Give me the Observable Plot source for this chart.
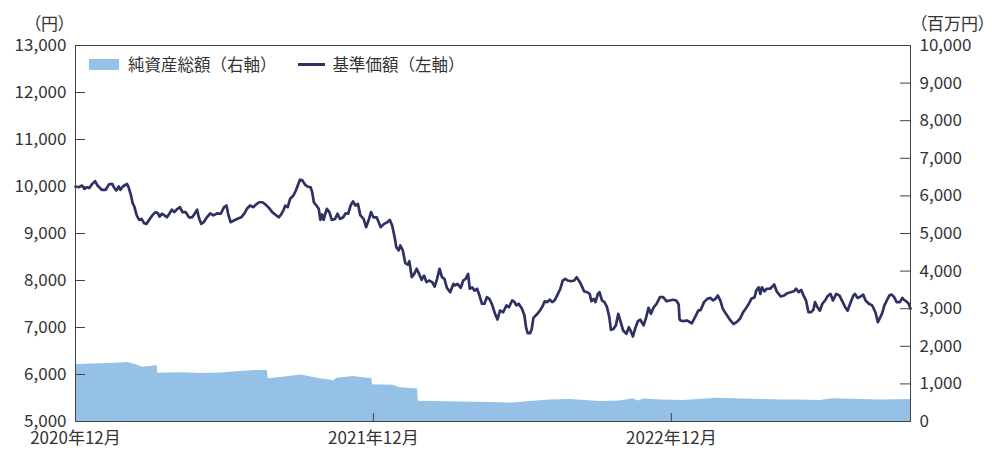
<!DOCTYPE html>
<html>
<head>
<meta charset="utf-8">
<script src="https://cdn.jsdelivr.net/npm/d3@7"></script>
<script src="https://cdn.jsdelivr.net/npm/@observablehq/plot@0.6"></script>
<style>
  html, body { margin: 0; padding: 0; background: #fff; }
  #wrap { position: relative; width: 992px; height: 454px; font-family: "Noto Sans CJK JP", "Noto Sans", sans-serif; color: #333; }
  #legend { position: absolute; left: 89px; top: 52px; display: flex; align-items: center; font-size: 16.5px; color: #333; white-space: nowrap; }
  .sw-area { width: 30px; height: 11px; background: #95c1e7; margin-right: 9px; }
  .sw-line { width: 27px; height: 3px; background: #2f3163; margin-left: 21px; margin-right: 8px; }
  .palt { font-feature-settings: "palt" 1; }
</style>
</head>
<body>
<div id="wrap">
  <div id="chart"></div>
  <div id="legend"><span class="sw-area"></span><span>純資産総額（右軸）</span><span class="sw-line"></span><span>基準価額（左軸）</span></div>
</div>
<script>
// 基準価額 (円)
const navDates = [
"2020-12-01","2020-12-05","2020-12-09","2020-12-12","2020-12-15","2020-12-18","2020-12-21","2020-12-25","2020-12-28",
"2021-01-02","2021-01-07","2021-01-11","2021-01-15","2021-01-17","2021-01-20","2021-01-23","2021-01-25","2021-01-28",
"2021-02-02","2021-02-04","2021-02-07","2021-02-09","2021-02-11","2021-02-14","2021-02-17","2021-02-20","2021-02-23","2021-02-26",
"2021-03-02","2021-03-05","2021-03-09","2021-03-12","2021-03-14","2021-03-17","2021-03-20","2021-03-23","2021-03-26","2021-03-29",
"2021-04-01","2021-04-05","2021-04-08","2021-04-11","2021-04-15","2021-04-19","2021-04-23","2021-04-26","2021-04-29",
"2021-05-01","2021-05-04","2021-05-07","2021-05-11","2021-05-15","2021-05-19","2021-05-24","2021-05-28",
"2021-06-01","2021-06-04","2021-06-06","2021-06-09","2021-06-13","2021-06-17","2021-06-22","2021-06-26","2021-06-29",
"2021-07-03","2021-07-07","2021-07-10","2021-07-14","2021-07-18","2021-07-22","2021-07-26","2021-07-30",
"2021-08-03","2021-08-07","2021-08-10","2021-08-13","2021-08-15","2021-08-18","2021-08-21","2021-08-25","2021-08-28","2021-08-31",
"2021-09-02","2021-09-05","2021-09-08","2021-09-11","2021-09-15","2021-09-17","2021-09-19","2021-09-23","2021-09-25","2021-09-27","2021-09-29",
"2021-10-01","2021-10-03","2021-10-05","2021-10-08","2021-10-11","2021-10-15","2021-10-18","2021-10-21","2021-10-25","2021-10-28","2021-10-31",
"2021-11-03","2021-11-06","2021-11-09","2021-11-12","2021-11-15","2021-11-19","2021-11-22","2021-11-25","2021-11-28",
"2021-12-01","2021-12-05","2021-12-10","2021-12-14","2021-12-18","2021-12-21","2021-12-24","2021-12-27","2021-12-29",
"2022-01-01","2022-01-03","2022-01-06","2022-01-09","2022-01-12","2022-01-14","2022-01-17","2022-01-20","2022-01-23","2022-01-26","2022-01-29",
"2022-02-01","2022-02-04","2022-02-07","2022-02-11","2022-02-14","2022-02-17","2022-02-20","2022-02-23","2022-02-26",
"2022-03-01","2022-03-05","2022-03-09","2022-03-11","2022-03-14","2022-03-18","2022-03-21","2022-03-24","2022-03-27","2022-03-29",
"2022-04-01","2022-04-04","2022-04-07","2022-04-10","2022-04-13","2022-04-16","2022-04-19","2022-04-22","2022-04-25","2022-04-29",
"2022-05-02","2022-05-05","2022-05-09","2022-05-13","2022-05-16","2022-05-20","2022-05-23","2022-05-25","2022-05-28",
"2022-06-01","2022-06-04","2022-06-06","2022-06-08","2022-06-11","2022-06-13","2022-06-15","2022-06-19","2022-06-23","2022-06-26","2022-06-29",
"2022-07-02","2022-07-05","2022-07-08","2022-07-11","2022-07-14","2022-07-18","2022-07-21","2022-07-24","2022-07-27","2022-07-31",
"2022-08-04","2022-08-07","2022-08-11","2022-08-14","2022-08-16","2022-08-20","2022-08-23","2022-08-25","2022-08-28","2022-08-30",
"2022-09-02","2022-09-04","2022-09-07","2022-09-10","2022-09-13","2022-09-16","2022-09-18","2022-09-21","2022-09-24","2022-09-27","2022-09-30",
"2022-10-03","2022-10-07","2022-10-10","2022-10-12","2022-10-15","2022-10-18","2022-10-21","2022-10-24","2022-10-28","2022-10-31",
"2022-11-03","2022-11-06","2022-11-09","2022-11-13","2022-11-17","2022-11-21","2022-11-25","2022-11-29",
"2022-12-03","2022-12-07","2022-12-10","2022-12-11","2022-12-12","2022-12-16","2022-12-20","2022-12-26","2022-12-30",
"2023-01-03","2023-01-06","2023-01-10","2023-01-14","2023-01-18","2023-01-21","2023-01-24","2023-01-27","2023-01-30",
"2023-02-02","2023-02-06","2023-02-10","2023-02-15","2023-02-19","2023-02-23","2023-02-27",
"2023-03-02","2023-03-06","2023-03-09","2023-03-13","2023-03-15","2023-03-18","2023-03-20","2023-03-22","2023-03-25","2023-03-28",
"2023-04-01","2023-04-05","2023-04-06","2023-04-09","2023-04-14","2023-04-18","2023-04-22","2023-04-26","2023-04-30",
"2023-05-03","2023-05-06","2023-05-09","2023-05-12","2023-05-15","2023-05-18","2023-05-21","2023-05-24","2023-05-26","2023-05-29",
"2023-06-01","2023-06-04","2023-06-08","2023-06-10","2023-06-14","2023-06-17","2023-06-21","2023-06-25","2023-06-29",
"2023-07-02","2023-07-05","2023-07-08","2023-07-12","2023-07-14","2023-07-17","2023-07-21","2023-07-24","2023-07-27","2023-07-31",
"2023-08-04","2023-08-08","2023-08-11","2023-08-13","2023-08-16","2023-08-19","2023-08-22","2023-08-25","2023-08-28","2023-08-31",
"2023-09-03","2023-09-07","2023-09-10","2023-09-12","2023-09-16","2023-09-18","2023-09-20"
];
const navValues = [
10000,9985,10020,9950,9985,9970,10045,10115,10020,
9930,9930,10045,10055,9985,9915,10000,9930,10000,
10055,9985,9810,9645,9575,9385,9290,9310,9220,9205,
9310,9385,9455,9430,9360,9420,9385,9345,9420,9505,
9455,9525,9560,9455,9455,9345,9345,9420,9505,
9345,9205,9240,9345,9430,9385,9430,9420,
9560,9595,9420,9240,9275,9310,9345,9430,9525,
9595,9560,9615,9665,9665,9615,9545,9455,
9400,9345,9405,9505,9595,9560,9740,9810,9915,10055,
10145,10130,10045,10000,9985,9880,9665,9575,9525,9290,9405,
9290,9420,9525,9455,9290,9310,9420,9310,9345,9430,9420,
9595,9685,9595,9630,9385,9310,9135,9275,9455,
9345,9345,9135,9205,9240,9290,9170,8920,8710,
8640,8745,8640,8370,8340,8410,8070,8140,8250,8140,8015,
8105,7965,8000,7965,7870,8035,8250,8070,8035,
7845,7750,7930,7895,7930,7845,8000,8035,8140,7825,
7855,7785,7825,7680,7505,7505,7645,7610,7505,7290,
7170,7360,7325,7470,7430,7575,7540,7470,7505,
7400,7255,7005,6880,6880,6970,7205,7275,7360,7445,7560,
7540,7590,7540,7575,7680,7825,8000,8035,8000,7985,
8000,8070,7965,7855,7770,7750,7715,7560,7610,7540,
7715,7750,7575,7540,7445,7220,6950,6970,7045,7290,7115,
6935,6865,7005,6935,6810,6995,7135,7165,7045,7205,
7420,7290,7420,7505,7645,7645,7560,7575,
7590,7575,7490,7185,7150,7135,7150,7090,7220,
7360,7375,7540,7610,7630,7575,7610,7680,7575,
7400,7290,7185,7075,7115,7185,7325,
7400,7505,7610,7645,7785,7855,7715,7855,7770,7825,
7825,7895,7915,7770,7660,7680,7730,7750,7770,
7825,7750,7800,7680,7575,7325,7325,7375,7540,7430,
7360,7505,7590,7660,7715,7575,7715,7680,7540,
7430,7360,7505,7680,7715,7630,7660,7700,7575,7505,
7470,7325,7115,7185,7290,7470,7575,7680,7700,7645,
7540,7540,7630,7590,7540,7500,7400
];
// 純資産総額 (百万円)
const aumDates = [
"2020-12-01","2020-12-19","2021-01-13","2021-01-25","2021-02-03","2021-02-12","2021-02-22","2021-03-03","2021-03-11","2021-03-12",
"2021-04-09","2021-05-03","2021-05-28","2021-06-21","2021-07-09","2021-07-24","2021-07-25","2021-08-15","2021-09-03","2021-09-27",
"2021-10-09","2021-10-13","2021-10-17","2021-11-06","2021-11-21","2021-11-29","2021-11-30","2021-12-25","2022-01-03","2022-01-24",
"2022-01-25","2022-03-18","2022-04-23","2022-05-21","2022-06-11","2022-07-06","2022-07-30","2022-09-05","2022-09-29","2022-10-15",
"2022-10-22","2022-10-28","2022-11-18","2022-12-16","2023-01-26","2023-03-08","2023-04-17","2023-05-08","2023-06-01","2023-06-17",
"2023-07-08","2023-08-14","2023-09-20"
];
const aumValues = [
1510,1530,1545,1555,1570,1515,1445,1465,1490,1285,
1295,1275,1290,1330,1355,1355,1135,1185,1240,1135,
1105,1075,1150,1195,1155,1145,975,965,895,865,
540,520,505,490,530,570,585,530,545,605,
545,600,570,560,620,595,575,575,560,605,
595,575,585
];
const leftTicks = [5000,6000,7000,8000,9000,10000,11000,12000,13000];
const rightTicks = [0,1000,2000,3000,4000,5000,6000,7000,8000,9000,10000];
const xTickDates = ["2020-12-01","2021-12-01","2022-12-01"];
const xTickLabels = ["2020年12月","2021年12月","2022年12月"];

const leftMin = 5000, leftMax = 13000, rightMax = 10000;
const toLeft = v => leftMin + v * (leftMax - leftMin) / rightMax;
const fmt = d3.format(",");

const nav = navDates.map((d, i) => ({date: new Date(d), value: navValues[i]}));
const aum = aumDates.map((d, i) => ({date: new Date(d), value: toLeft(aumValues[i])}));
const xTicks = xTickDates.map(d => new Date(d));

const W = 992, H = 454, mL = 75, mR = 82, mT = 45, mB = 33;
const innerW = W - mL - mR, innerH = H - mT - mB;
const ink = "#444";

const chart = Plot.plot({
  width: W, height: H,
  marginLeft: mL, marginRight: mR, marginTop: mT, marginBottom: mB,
  style: {fontFamily: '"Noto Sans CJK JP", "Noto Sans", sans-serif', fontSize: "17px", color: "#333", background: "#fff"},
  x: {type: "utc", domain: [new Date("2020-12-01"), new Date("2023-09-20")], axis: null},
  y: {domain: [leftMin, leftMax], axis: null},
  marks: [
    Plot.areaY(aum, {x: "date", y1: leftMin, y2: "value", fill: "#95c1e7", curve: "linear"}),
    Plot.line(nav, {x: "date", y: "value", stroke: "#2f3163", strokeWidth: 2.7, strokeLinejoin: "round"}),
    Plot.axisY(leftTicks, {anchor: "left", label: null, tickSize: 0, tickPadding: 9, tickFormat: fmt, fontSize: 17}),
    Plot.axisY(rightTicks.map(toLeft), {anchor: "right", label: null, tickSize: 0, tickPadding: 9, tickFormat: v => fmt(Math.round((v - leftMin) * rightMax / (leftMax - leftMin))), fontSize: 17}),
    Plot.tickY(leftTicks.slice(1, -1), {y: d => d, stroke: ink, strokeWidth: 1, insetRight: innerW - 10}),
    Plot.tickY(rightTicks.slice(1, -1).map(toLeft), {y: d => d, stroke: ink, strokeWidth: 1, insetLeft: innerW - 10}),
    Plot.tickX(xTicks.slice(1), {x: d => d, stroke: ink, strokeWidth: 1, insetTop: innerH - 8}),
    Plot.text(xTicks, {x: d => d, text: (d, i) => xTickLabels[i], frameAnchor: "bottom", dy: 22, fontSize: 17, fill: "#333"}),
    Plot.text(["（円）"], {frameAnchor: "top-left", dx: -9, dy: -28, textAnchor: "end", fontSize: 17, fill: "#333", className: "palt"}),
    Plot.text(["（百万円）"], {frameAnchor: "top-right", dx: 8, dy: -28, textAnchor: "start", fontSize: 17, fill: "#333", className: "palt"}),
    Plot.frame({stroke: ink, strokeWidth: 1})
  ]
});
document.getElementById("chart").appendChild(chart);
</script>
</body>
</html>
